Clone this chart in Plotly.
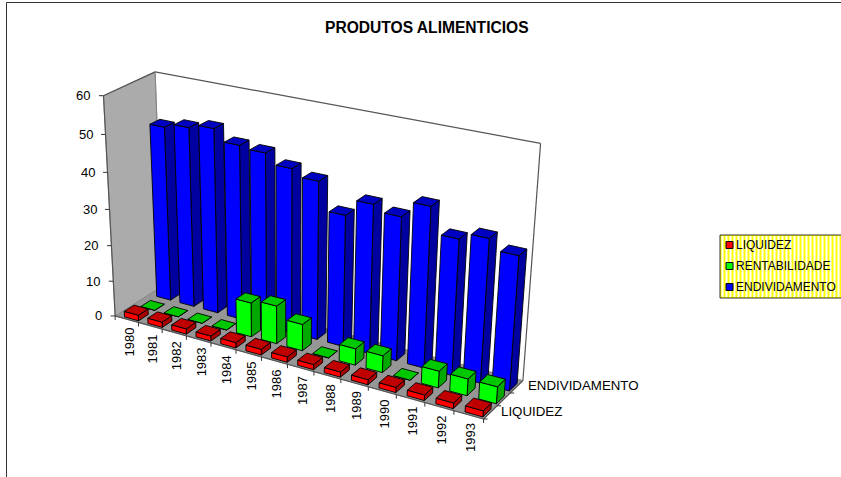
import numpy as np
import plotly.graph_objects as go

YEARS = ["1980","1981","1982","1983","1984","1985","1986","1987","1988","1989","1990","1991","1992","1993"]
LIQUIDEZ = [1.6,1.5,1.5,1.4,1.5,1.6,1.5,1.4,1.4,1.4,1.4,1.5,1.5,1.6]
RENTABILIDADE = [0,0,0,0,9.5,10.5,7.3,0,4.5,4.6,0,4.5,4.5,4.5]
ENDIVIDAMENTO = [48.4,49.6,50.7,47.7,47.1,44.5,42.7,35.4,39.8,38.2,42.4,35.8,37.6,35.0]
SERIES = ["LIQUIDEZ","RENTABILIDADE","ENDIVIDAMENTO"]
VALUE_TICKS = [0,10,20,30,40,50,60]
DEPTH_LABELS = ["LIQUIDEZ","","ENDIVIDAMENTO"]
VMAX = 60

FONT = "Liberation Sans, Arial, sans-serif"
FRONT = ["#FF0000","#00FF00","#0000FF"]
TOP = ["#C00000","#00C800","#0000C0"]
SIDE = ["#A80000","#00A800","#0000A0"]

# perspective of the 3D box (u along years, w front->back, v up), fitted on the box corners
cal = [((0,0,0),(118,313)),((0,0,1),(101,96)),((0,1,1),(158,71)),((0,1,0),(160,289)),
       ((1,0,0),(483,422)),((1,1,0),(524,377)),((1,1,1),(540,144))]
A=[];b=[]
for (u,w,v),(x,y) in cal:
    A.append([u,w,v,1,0,0,0,0,-x*u,-x*w,-x*v]);b.append(x)
    A.append([0,0,0,0,u,w,v,1,-y*u,-y*w,-y*v]);b.append(y)
p=np.linalg.lstsq(np.array(A,float),np.array(b,float),rcond=None)[0]
P=np.append(p,1).reshape(3,4)
def proj(u,w,val):
    h=P@np.array([u,w,val/VMAX,1.0])
    return h[0]/h[2],h[1]/h[2]
def poly(pts):
    q=[proj(*t) for t in pts]+[proj(*pts[0])]
    return [a for a,_ in q],[c for _,c in q]

fig=go.Figure()
def face(pts,fill,line="#000000",lw=0.9):
    xs,ys=poly(pts)
    fig.add_trace(go.Scatter(x=xs,y=ys,mode="lines",fill="toself",fillcolor=fill,
        line=dict(color=line,width=lw),hoverinfo="skip",showlegend=False))
def seg(a,b,color="#555555",lw=1.2):
    p1=proj(*a);p2=proj(*b)
    fig.add_trace(go.Scatter(x=[p1[0],p2[0]],y=[p1[1],p2[1]],mode="lines",line=dict(color=color,width=lw),hoverinfo="skip",showlegend=False))

# walls and floor
face([(0,0,0),(1,0,0),(1,1,0),(0,1,0)],"#969696","#808080",0.8)
face([(0,0,0),(0,1,0),(0,1,VMAX),(0,0,VMAX)],"#ABABAB","#808080",0.8)
seg((0,1,VMAX),(1,1,VMAX)); seg((1,1,VMAX),(1,1,0)); seg((0,0,0),(0,0,VMAX)); seg((0,0,VMAX),(0,1,VMAX)); seg((0,1,0),(0,1,VMAX),"#808080",0.8)
seg((0,0,0),(1,0,0)); seg((1,0,0),(1,1,0))

# ticks
annos=[]
n=len(YEARS)
for val in VALUE_TICKS:
    x,y=proj(0,0,val)
    fig.add_trace(go.Scatter(x=[x-4.5,x],y=[y,y],mode="lines",line=dict(color="#333333",width=1),hoverinfo="skip",showlegend=False))
    annos.append(dict(x=x-11,y=y,text=str(val),xanchor="right",yanchor="middle",showarrow=False,font=dict(family=FONT,size=13,color="#000000")))
for i in range(n+1):
    x,y=proj(i/n,0,0)
    fig.add_trace(go.Scatter(x=[x,x],y=[y,y+4],mode="lines",line=dict(color="#333333",width=1),hoverinfo="skip",showlegend=False))
for i,lab in enumerate(YEARS):
    x,y=proj((i+.5)/n,0,0)
    annos.append(dict(x=x+2.5,y=y+23,text=lab,textangle=-90,xanchor="center",yanchor="middle",showarrow=False,font=dict(family=FONT,size=13,color="#000000")))
for r,lab in enumerate(DEPTH_LABELS):
    x,y=proj(1,r/3,0)
    fig.add_trace(go.Scatter(x=[x,x+4],y=[y,y],mode="lines",line=dict(color="#333333",width=1),hoverinfo="skip",showlegend=False))
    if lab:
        x,y=proj(1,(r+.5)/3,0)
        annos.append(dict(x=x+9,y=y-1,text=lab,xanchor="left",yanchor="middle",showarrow=False,font=dict(family=FONT,size=13.3,color="#000000")))

# bars, from back to front
data=[LIQUIDEZ,RENTABILIDADE,ENDIVIDAMENTO]
WF=0.30; DF=0.30
DU=0.009; DW=-0.03
for r in [2,1,0]:
    for i,val in enumerate(data[r]):
        u0=(i+.5)/n-WF/n+DU; u1=(i+.5)/n+WF/n+DU
        w0=(r+.5)/3-DF/3+DW; w1=(r+.5)/3+DF/3+DW
        face([(u1,w0,0),(u1,w1,0),(u1,w1,val),(u1,w0,val)],SIDE[r])
        face([(u0,w0,0),(u1,w0,0),(u1,w0,val),(u0,w0,val)],FRONT[r])
        face([(u0,w0,val),(u1,w0,val),(u1,w1,val),(u0,w1,val)],TOP[r])

# legend box with striped fill
LX0,LX1,LY0,LY1=720,841,235,298
fig.add_shape(type="rect",x0=LX0,x1=LX1+3,y0=LY0,y1=LY1,xref="x",yref="y",fillcolor="#FFFF00",line=dict(color="#333333",width=1),layer="below")
sx=[];sy=[]
for sxp in np.arange(LX0+2.5,LX1,4.0):
    sx+=[sxp,sxp,None];sy+=[LY0+1,LY1-1,None]
fig.add_trace(go.Scatter(x=sx,y=sy,mode="lines",line=dict(color="#FFFFFF",width=2),hoverinfo="skip",showlegend=False))
for name,c,yy in zip(SERIES,FRONT,[245,266,287]):
    fig.add_trace(go.Scatter(x=[729.5],y=[yy],mode="markers",marker=dict(symbol="square",size=7,color=c,line=dict(color="#000000",width=1)),hoverinfo="skip",showlegend=False))
    annos.append(dict(x=734,y=yy,text=name,xanchor="left",yanchor="middle",showarrow=False,font=dict(family=FONT,size=12,color="#000000")))

annos.append(dict(x=426.5,y=27.5,text="<b>PRODUTOS ALIMENTICIOS</b>",xanchor="center",yanchor="middle",showarrow=False,font=dict(family=FONT,size=15.6,color="#000000")))

# chart-area frame
fig.add_shape(type="line",x0=6.5,x1=6.5,y0=2.5,y1=477,xref="x",yref="y",line=dict(color="#333333",width=1))
fig.add_shape(type="line",x0=6.5,x1=841,y0=2.5,y1=2.5,xref="x",yref="y",line=dict(color="#333333",width=1))

fig.update_layout(width=841,height=477,margin=dict(l=0,r=0,t=0,b=0),paper_bgcolor="#FFFFFF",plot_bgcolor="#FFFFFF",
    showlegend=False,annotations=annos,
    xaxis=dict(range=[0,841],visible=False,fixedrange=True),
    yaxis=dict(range=[477,0],visible=False,fixedrange=True))
fig.write_html("out.html",config=dict(displayModeBar=False),
    post_script="document.body.style.margin='0';document.documentElement.style.overflow='hidden';window.dispatchEvent(new Event('resize'));")
